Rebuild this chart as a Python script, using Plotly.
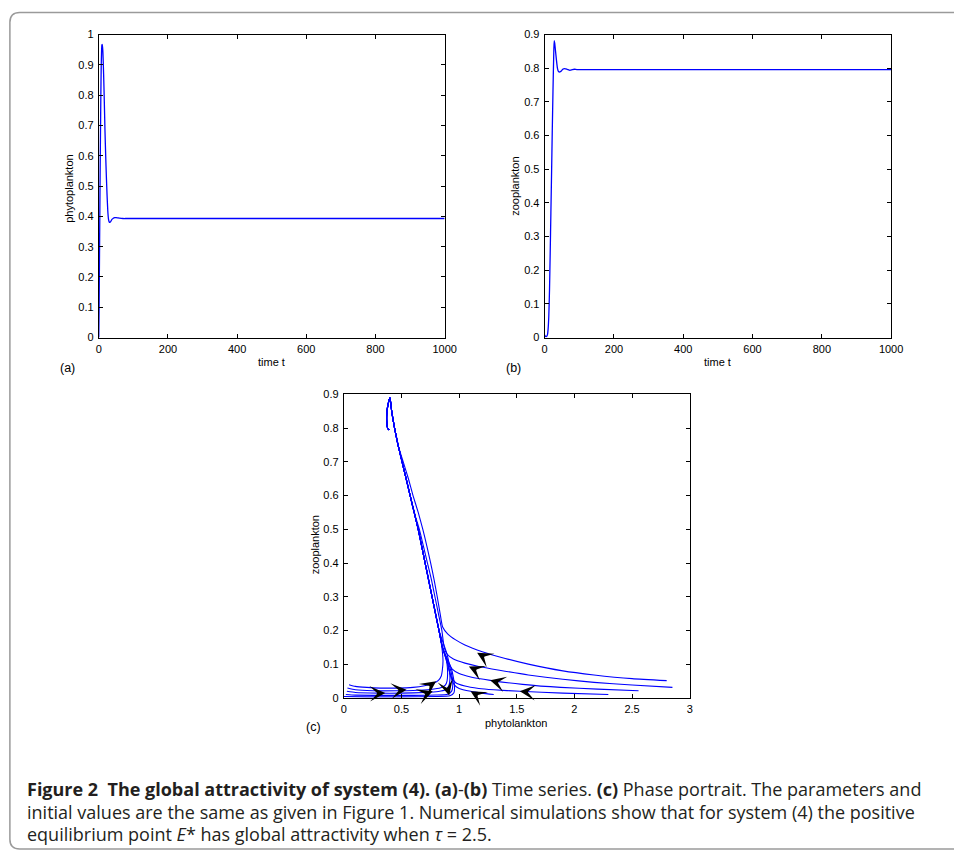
import math
import plotly.graph_objects as go

W, H = 954, 856

# ---------------- data ----------------
# (a) phytoplankton time series
t_a = [0, 1, 2, 3, 4, 5, 6, 7, 8, 9, 10, 11, 12, 14, 16, 18, 20, 22, 24, 26, 28, 30, 32,
       35, 38, 42, 46, 50, 55, 60, 70, 80, 100, 1000]
phyto_a = [0.0, 0.1, 0.25, 0.4, 0.55, 0.68, 0.8, 0.89, 0.94, 0.965, 0.968, 0.958, 0.94,
           0.87, 0.78, 0.68, 0.6, 0.53, 0.47, 0.42, 0.392, 0.382, 0.38,
           0.384, 0.39, 0.394, 0.396, 0.396, 0.395, 0.394, 0.393, 0.393, 0.393, 0.393]

# (b) zooplankton time series
t_b = [0, 2, 4, 6, 8, 10, 12, 14, 16, 18, 20, 22, 24, 26, 27.5, 29, 31, 34, 37, 40, 44,
       48, 52, 58, 65, 73, 80, 86, 93, 100, 1000]
zoo_b = [0.008, 0.004, 0.003, 0.004, 0.008, 0.025, 0.065, 0.14, 0.25, 0.37, 0.49, 0.614,
         0.73, 0.83, 0.882, 0.875, 0.855, 0.825, 0.80, 0.79, 0.789,
         0.792, 0.797, 0.799, 0.797, 0.794, 0.796, 0.797, 0.796, 0.796, 0.796]

# (c) phase portrait: shared trunk towards the equilibrium (phyto, zoo)
trunk_x = [0.90, 0.88, 0.855, 0.825, 0.795, 0.765, 0.735, 0.705, 0.675, 0.645, 0.61,
           0.575, 0.54, 0.505, 0.47, 0.44, 0.415, 0.40, 0.39, 0.378, 0.372, 0.372, 0.38, 0.393]
trunk_y = [0.05, 0.10, 0.15, 0.20, 0.25, 0.30, 0.35, 0.40, 0.45, 0.50, 0.55,
           0.60, 0.65, 0.70, 0.75, 0.80, 0.85, 0.89, 0.88, 0.86, 0.84, 0.82, 0.80, 0.795]

# individual trajectory heads (before joining the trunk) and trunk index where they join
traj_x = [
    [2.80, 2.5, 2.17, 1.9, 1.6, 1.4, 1.2, 1.05, 0.97, 0.9, 0.857, 0.835, 0.81, 0.783, 0.753, 0.72, 0.685, 0.645, 0.60, 0.56, 0.515],
    [2.85, 2.5, 2.17, 1.9, 1.6, 1.35, 1.17, 1.05, 0.95, 0.895, 0.87, 0.85, 0.82, 0.79, 0.76, 0.725, 0.69, 0.655],
    [2.556, 2.2, 1.88, 1.55, 1.27, 1.1, 1.0, 0.94, 0.915, 0.895, 0.875],
    [2.294, 1.9, 1.526, 1.3, 1.17, 1.05, 0.97, 0.935, 0.915, 0.895],
    [1.30, 1.2, 1.1, 1.0, 0.96, 0.935, 0.915, 0.895],
    [0.045, 0.1, 0.2, 0.316, 0.45, 0.6, 0.7, 0.78, 0.82, 0.845, 0.855, 0.86, 0.85],
    [0.031, 0.1, 0.25, 0.458, 0.6, 0.75, 0.84, 0.88, 0.895, 0.9, 0.895, 0.875],
    [0.026, 0.1, 0.3, 0.5, 0.7, 0.82, 0.88, 0.91, 0.92, 0.915, 0.9],
    [0.017, 0.1, 0.359, 0.6, 0.8, 0.9, 0.935, 0.945, 0.94, 0.92],
    [0.0, 0.2, 0.5, 0.8, 0.92, 0.955, 0.96, 0.95, 0.93],
]
traj_y = [
    [0.051, 0.057, 0.068, 0.08, 0.10, 0.117, 0.137, 0.157, 0.172, 0.19, 0.21, 0.25, 0.30, 0.35, 0.40, 0.45, 0.50, 0.55, 0.60, 0.65, 0.70],
    [0.031, 0.038, 0.046, 0.055, 0.068, 0.082, 0.093, 0.103, 0.115, 0.13, 0.15, 0.20, 0.25, 0.30, 0.35, 0.40, 0.45, 0.50],
    [0.021, 0.026, 0.031, 0.04, 0.052, 0.062, 0.072, 0.085, 0.10, 0.13, 0.15],
    [0.0098, 0.014, 0.0195, 0.024, 0.028, 0.035, 0.045, 0.06, 0.08, 0.11],
    [0.0098, 0.014, 0.0195, 0.028, 0.038, 0.055, 0.08, 0.11],
    [0.039, 0.034, 0.031, 0.029, 0.029, 0.031, 0.036, 0.044, 0.052, 0.065, 0.085, 0.11, 0.15],
    [0.029, 0.024, 0.021, 0.021, 0.022, 0.025, 0.03, 0.038, 0.05, 0.07, 0.10, 0.13],
    [0.0195, 0.016, 0.014, 0.014, 0.016, 0.019, 0.024, 0.035, 0.055, 0.08, 0.10],
    [0.0098, 0.008, 0.0075, 0.0075, 0.0085, 0.011, 0.02, 0.04, 0.06, 0.09],
    [0.004, 0.003, 0.003, 0.004, 0.006, 0.015, 0.035, 0.06, 0.09],
]
traj_join = [14, 10, 3, 2, 2, 3, 2, 2, 2, 2]

# direction arrows on the phase portrait: position and screen direction (deg, 0 = right, ccw)
arrow_x = [1.156, 1.084, 1.269, 1.526, 1.099, 0.359, 0.544, 0.771, 0.80, 0.914]
arrow_y = [0.134, 0.093, 0.052, 0.0195, 0.0195, 0.0146, 0.0244, 0.0195, 0.049, 0.0068]
arrow_dir = [150, 155, 165, 175, 150, 3, 5, 20, 35, -75]

# ticks
ticks_t = [0, 200, 400, 600, 800, 1000]
ticks_a_y = [0, 0.1, 0.2, 0.3, 0.4, 0.5, 0.6, 0.7, 0.8, 0.9, 1]
ticks_09 = [0, 0.1, 0.2, 0.3, 0.4, 0.5, 0.6, 0.7, 0.8, 0.9]
ticks_c_x = [0, 0.5, 1, 1.5, 2, 2.5, 3]

# ---------------- figure ----------------
BLUE = '#0000ff'
FONT = 'Liberation Sans, Arial, Helvetica, sans-serif'

fig = go.Figure()
fig.add_trace(go.Scatter(x=t_a, y=phyto_a, mode='lines', xaxis='x', yaxis='y',
                         line=dict(color=BLUE, width=1.3, shape='spline', smoothing=0.6),
                         showlegend=False, hoverinfo='skip'))
fig.add_trace(go.Scatter(x=t_b, y=zoo_b, mode='lines', xaxis='x2', yaxis='y2',
                         line=dict(color=BLUE, width=1.3, shape='spline', smoothing=0.6),
                         showlegend=False, hoverinfo='skip'))
for xs, ys, j in zip(traj_x, traj_y, traj_join):
    fig.add_trace(go.Scatter(x=xs + trunk_x[j:], y=ys + trunk_y[j:], mode='lines',
                             xaxis='x3', yaxis='y3',
                             line=dict(color=BLUE, width=1.1, shape='spline', smoothing=0.5),
                             showlegend=False, hoverinfo='skip'))

annotations = []
L = 6
for x, y, d in zip(arrow_x, arrow_y, arrow_dir):
    a = math.radians(d)
    annotations.append(dict(x=x, y=y, xref='x3', yref='y3', text='', showarrow=True,
                            ax=-math.cos(a) * L, ay=math.sin(a) * L,
                            arrowhead=3, arrowsize=2.6, arrowwidth=1, arrowcolor='black',
                            standoff=0))


def px(x):
    return x / W


def py(y):
    return 1 - y / H


axis_common = dict(showline=True, linecolor='black', linewidth=1, mirror='allticks',
                   ticks='inside', ticklen=4, tickwidth=1, tickcolor='black',
                   showgrid=False, zeroline=False,
                   tickfont=dict(family=FONT, size=11, color='black'))
xax = dict(ticklabelstandoff=1, **axis_common)
yax = dict(ticklabelstandoff=2, **axis_common)

fig.update_layout(
    width=W, height=H,
    margin=dict(l=0, r=0, t=0, b=0),
    paper_bgcolor='white', plot_bgcolor='white',
    xaxis=dict(domain=[px(97.3), px(448.7)], range=[0, 1000], anchor='y',
               tickvals=ticks_t, ticktext=[str(v) for v in ticks_t], **xax),
    yaxis=dict(domain=[py(336.3), py(29)], range=[0, 1], anchor='x',
               tickvals=ticks_a_y, ticktext=[f'{v:g}' for v in ticks_a_y], **yax),
    xaxis2=dict(domain=[px(550.3), px(902.3)], range=[0, 1000], anchor='y2',
                tickvals=ticks_t, ticktext=[str(v) for v in ticks_t], **xax),
    yaxis2=dict(domain=[py(336.3), py(29)], range=[0, 0.9], anchor='x2',
                tickvals=ticks_09, ticktext=[f'{v:g}' for v in ticks_09], **yax),
    xaxis3=dict(domain=[px(346.3), px(697.7)], range=[0, 3], anchor='y3',
                tickvals=ticks_c_x, ticktext=[f'{v:g}' for v in ticks_c_x], **xax),
    yaxis3=dict(domain=[py(701.7), py(394)], range=[0, 0.9], anchor='x3',
                tickvals=ticks_09, ticktext=[f'{v:g}' for v in ticks_09], **yax),
)


def lab(text, x, y, rot=0, size=11):
    annotations.append(dict(text=text, x=px(x), y=py(y), xref='paper', yref='paper',
                            showarrow=False, textangle=rot, xanchor='center', yanchor='middle',
                            font=dict(family=FONT, size=size, color='black')))


lab('phytoplankton', 67.5, 185, -90)
lab('time t', 272.7, 361)
lab('(a)', 66, 367, size=12.5)
lab('zooplankton', 520.5, 183, -90)
lab('time t', 726, 361)
lab('(b)', 519, 367, size=12.5)
lab('zooplankton', 317, 547, -90)
lab('phytolankton', 521.7, 727)
lab('(c)', 315, 731, size=12.5)

CAP_FONT = 'Open Sans, Noto Sans, sans-serif'
cap_lines = [
    '<b>Figure 2  The global attractivity of system (4). (a)</b>-<b>(b)</b> Time series. '
    '<b>(c)</b> Phase portrait. The parameters and',
    'initial values are the same as given in Figure 1. Numerical simulations show that for system (4) the positive',
    'equilibrium point <i>E</i>* has global attractivity when <i>τ</i> = 2.5.',
]
cap_y = [794, 817, 840]
for t, y in zip(cap_lines, cap_y):
    annotations.append(dict(text=t, x=px(22), y=py(y), xref='paper', yref='paper',
                            showarrow=False, xanchor='left', yanchor='middle',
                            font=dict(family=CAP_FONT, size=18, color='#231f20')))

fig.update_layout(annotations=annotations)

# rounded frame around figure and caption
x0 = px(7)
r_x = 10 / W
r_y = 10 / H
ytop = py(6.5)
ybot = py(855)
path = (f'M 1.02,{ybot} L {x0 + r_x},{ybot} Q {x0},{ybot} {x0},{ybot + r_y} '
        f'L {x0},{ytop - r_y} Q {x0},{ytop} {x0 + r_x},{ytop} L 1.02,{ytop}')
fig.add_shape(type='path', path=path, xref='paper', yref='paper',
              line=dict(color='#9a9a9a', width=1.5), layer='below')

fig.write_html('out.html', config={'displayModeBar': False},
               post_script="document.body.style.margin='0';document.body.style.overflow='hidden';")
